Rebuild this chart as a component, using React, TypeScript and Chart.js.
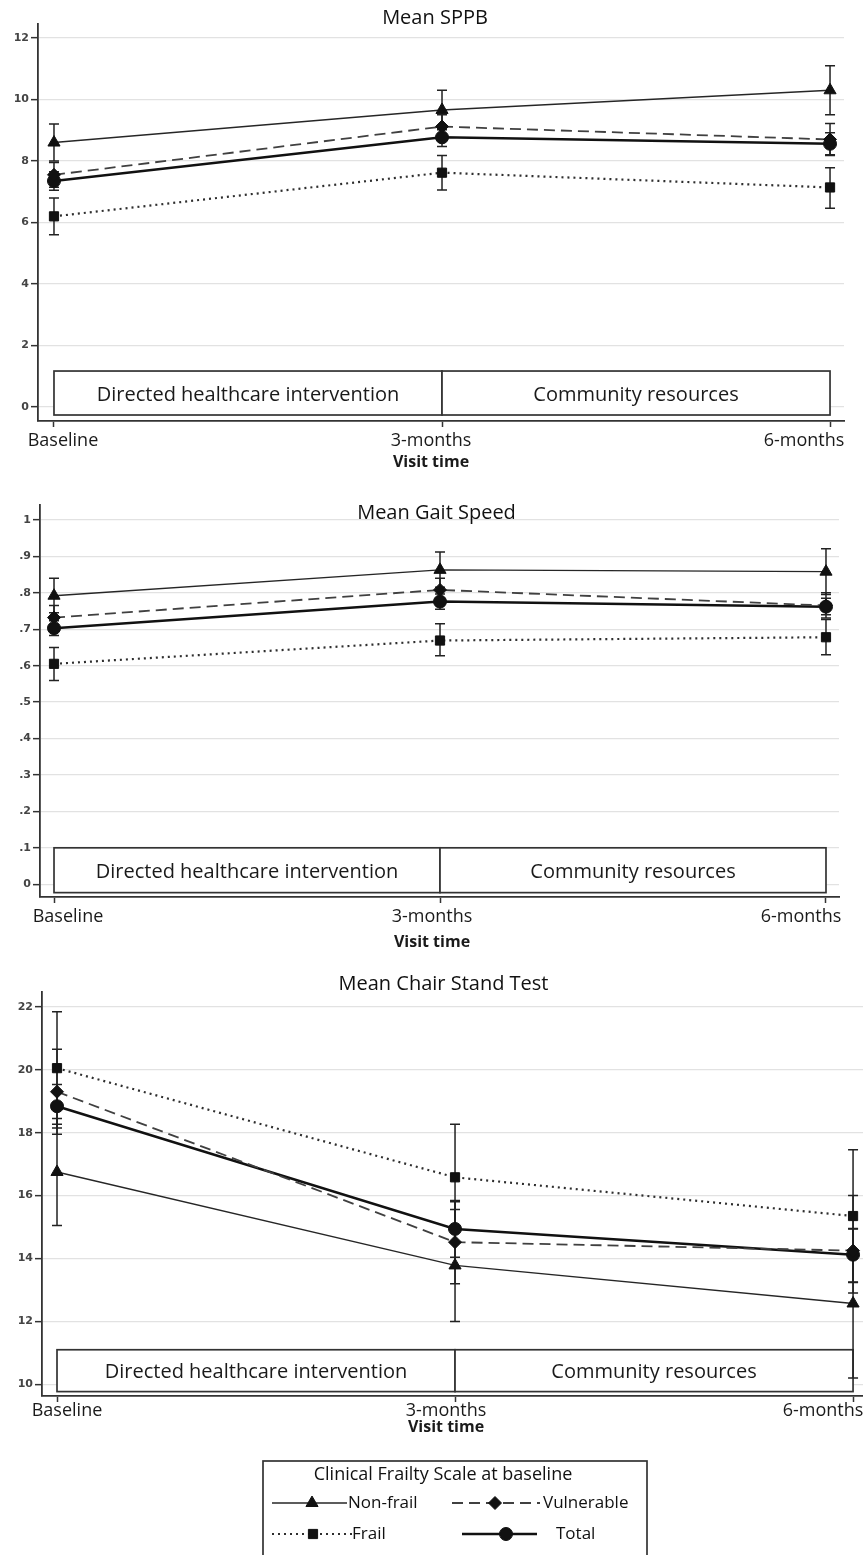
import React, { useEffect, useRef } from 'react';
import { Chart, registerables } from 'chart.js';
import { drawPoint } from 'chart.js/helpers';

Chart.register(...registerables);

// ---------- data ----------
const visitLabels = ['Baseline', '3-months', '6-months'];
const visitIndex = [0, 1, 2];
const seriesNames = ['Non-frail', 'Vulnerable', 'Frail', 'Total'];
const phaseLabels = ['Directed healthcare intervention', 'Community resources'];
const axisTitle = 'Visit time';
const legendTitle = 'Clinical Frailty Scale at baseline';

// Mean SPPB
const sppbTicks = [0, 2, 4, 6, 8, 10, 12];
const sppbNonFrail = [8.6, 9.66, 10.3];
const sppbNonFrailLo = [8.0, 9.02, 9.5];
const sppbNonFrailHi = [9.2, 10.3, 11.1];
const sppbVulnerable = [7.55, 9.12, 8.7];
const sppbVulnerableLo = [7.15, 8.75, 8.2];
const sppbVulnerableHi = [7.95, 9.5, 9.22];
const sppbFrail = [6.2, 7.62, 7.14];
const sppbFrailLo = [5.6, 7.06, 6.46];
const sppbFrailHi = [6.8, 8.18, 7.78];
const sppbTotal = [7.35, 8.77, 8.56];
const sppbTotalLo = [7.05, 8.47, 8.18];
const sppbTotalHi = [7.65, 9.08, 8.92];

// Mean Gait Speed
const gaitTicks = [0, 0.1, 0.2, 0.3, 0.4, 0.5, 0.6, 0.7, 0.8, 0.9, 1];
const gaitNonFrail = [0.792, 0.863, 0.858];
const gaitNonFrailLo = [0.745, 0.815, 0.795];
const gaitNonFrailHi = [0.84, 0.912, 0.921];
const gaitVulnerable = [0.732, 0.808, 0.765];
const gaitVulnerableLo = [0.7, 0.775, 0.731];
const gaitVulnerableHi = [0.765, 0.84, 0.8];
const gaitFrail = [0.605, 0.669, 0.678];
const gaitFrailLo = [0.559, 0.627, 0.63];
const gaitFrailHi = [0.65, 0.715, 0.727];
const gaitTotal = [0.703, 0.776, 0.762];
const gaitTotalLo = [0.683, 0.755, 0.74];
const gaitTotalHi = [0.723, 0.797, 0.785];

// Mean Chair Stand Test
const chairTicks = [10, 12, 14, 16, 18, 20, 22];
const chairNonFrail = [16.75, 13.78, 12.57];
const chairNonFrailLo = [15.05, 12.0, 10.2];
const chairNonFrailHi = [18.45, 15.56, 14.94];
const chairVulnerable = [19.3, 14.52, 14.25];
const chairVulnerableLo = [17.95, 13.2, 12.9];
const chairVulnerableHi = [20.65, 15.8, 16.0];
const chairFrail = [20.05, 16.58, 15.35];
const chairFrailLo = [18.27, 14.89, 13.24];
const chairFrailHi = [21.84, 18.27, 17.46];
const chairTotal = [18.84, 14.94, 14.12];
const chairTotalLo = [18.15, 14.04, 13.25];
const chairTotalHi = [19.53, 15.84, 14.95];

// ---------- styles ----------
const FONT = '"Open Sans", "Noto Sans", sans-serif';
const seriesStyles = [
  { color: '#262626', width: 1.4, dash: [] as number[], point: 'triangle', radius: 7 },
  { color: '#404040', width: 1.8, dash: [11, 6], point: 'rectRot', radius: 6.5 },
  { color: '#2e2e2e', width: 2.2, dash: [2, 4], point: 'rect', radius: 6.5 },
  { color: '#111111', width: 2.5, dash: [] as number[], point: 'circle', radius: 6.5 },
];
const markerColor = '#111111';

type Series = { mean: number[]; lo: number[]; hi: number[] };

interface PanelCfg {
  title: string;
  height: number;
  top: number;
  bottom: number;
  left: number;
  right: number;
  xMin: number;
  xMax: number;
  yMin: number;
  yMax: number;
  yTicks: number[];
  yFormat: (v: number) => string;
  series: Series[];
  boxTop: number;
  boxBottom: number;
  titleDx: number;
  titleDy: number;
  labelDx: number[];
  labelDy: number;
  axisTitleDy: number;
  legend?: boolean;
}

const W = 863;

const panels: PanelCfg[] = [
  {
    title: 'Mean SPPB',
    height: 475,
    top: 24,
    bottom: 421,
    left: 38,
    right: 844,
    xMin: -0.0412,
    xMax: 2.036,
    yMin: -0.455,
    yMax: 12.455,
    yTicks: sppbTicks,
    yFormat: (v) => String(v),
    series: [
      { mean: sppbNonFrail, lo: sppbNonFrailLo, hi: sppbNonFrailHi },
      { mean: sppbVulnerable, lo: sppbVulnerableLo, hi: sppbVulnerableHi },
      { mean: sppbFrail, lo: sppbFrailLo, hi: sppbFrailHi },
      { mean: sppbTotal, lo: sppbTotalLo, hi: sppbTotalHi },
    ],
    boxTop: 1.17,
    boxBottom: -0.26,
    titleDx: -6,
    titleDy: -6,
    labelDx: [9, -11, -26],
    labelDy: 20,
    axisTitleDy: 41,
  },
  {
    title: 'Mean Gait Speed',
    height: 480,
    top: 30,
    bottom: 422,
    left: 40,
    right: 839,
    xMin: -0.0363,
    xMax: 2.0337,
    yMin: -0.035,
    yMax: 1.041,
    yTicks: gaitTicks,
    yFormat: (v) => (Math.abs(v) < 1e-9 ? '0' : Math.abs(v - 1) < 1e-9 ? '1' : '.' + Math.round(v * 10)),
    series: [
      { mean: gaitNonFrail, lo: gaitNonFrailLo, hi: gaitNonFrailHi },
      { mean: gaitVulnerable, lo: gaitVulnerableLo, hi: gaitVulnerableHi },
      { mean: gaitFrail, lo: gaitFrailLo, hi: gaitFrailHi },
      { mean: gaitTotal, lo: gaitTotalLo, hi: gaitTotalHi },
    ],
    boxTop: 0.1,
    boxBottom: -0.023,
    titleDx: -3,
    titleDy: 8,
    labelDx: [14, -8, -25],
    labelDy: 20,
    axisTitleDy: 45,
  },
  {
    title: 'Mean Chair Stand Test',
    height: 600,
    top: 37,
    bottom: 441,
    left: 42,
    right: 863,
    xMin: -0.0377,
    xMax: 2.025,
    yMin: 9.63,
    yMax: 22.47,
    yTicks: chairTicks,
    yFormat: (v) => String(v),
    series: [
      { mean: chairNonFrail, lo: chairNonFrailLo, hi: chairNonFrailHi },
      { mean: chairVulnerable, lo: chairVulnerableLo, hi: chairVulnerableHi },
      { mean: chairFrail, lo: chairFrailLo, hi: chairFrailHi },
      { mean: chairTotal, lo: chairTotalLo, hi: chairTotalHi },
    ],
    boxTop: 11.1,
    boxBottom: 9.77,
    titleDx: -9,
    titleDy: -8,
    labelDx: [10, -9, -30],
    labelDy: 15,
    axisTitleDy: 31,
    legend: true,
  },
];

// legend layout (canvas px of last panel)
const legendBox = { x: 263, y: 506, w: 384, h: 120 };
const legendTitlePos = { x: 443, y: 520 };
const legendItems = [
  { x0: 272, x1: 347, mx: 312, tx: 348, y: 548 },
  { x0: 452, x1: 540, mx: 495, tx: 543, y: 548 },
  { x0: 272, x1: 352, mx: 313, tx: 352, y: 579 },
  { x0: 462, x1: 537, mx: 506, tx: 556, y: 579 },
];

function makeOverlay(cfg: PanelCfg) {
  return {
    id: 'overlay',
    beforeDatasetsDraw(chart: any) {
      const ctx = chart.ctx as CanvasRenderingContext2D;
      const xs = chart.scales.x;
      const ys = chart.scales.y;
      ctx.save();
      // phase boxes
      const yt = ys.getPixelForValue(cfg.boxTop);
      const yb = ys.getPixelForValue(cfg.boxBottom);
      phaseLabels.forEach((lab, i) => {
        const x0 = xs.getPixelForValue(i);
        const x1 = xs.getPixelForValue(i + 1);
        ctx.fillStyle = '#ffffff';
        ctx.fillRect(x0, yt, x1 - x0, yb - yt);
        ctx.strokeStyle = '#333';
        ctx.lineWidth = 1.7;
        ctx.setLineDash([]);
        ctx.strokeRect(x0, yt, x1 - x0, yb - yt);
        ctx.fillStyle = '#1a1a1a';
        ctx.font = `20px ${FONT}`;
        ctx.textAlign = 'center';
        ctx.textBaseline = 'middle';
        ctx.fillText(lab, (x0 + x1) / 2, (yt + yb) / 2 + 2);
      });
      // error bars
      cfg.series.forEach((s) => {
        ctx.strokeStyle = '#222';
        ctx.lineWidth = 1.5;
        ctx.setLineDash([]);
        s.lo.forEach((l, i) => {
          const x = xs.getPixelForValue(visitIndex[i]);
          const y1 = ys.getPixelForValue(l);
          const y2 = ys.getPixelForValue(s.hi[i]);
          ctx.beginPath();
          ctx.moveTo(x, y1);
          ctx.lineTo(x, y2);
          ctx.moveTo(x - 5, y1);
          ctx.lineTo(x + 5, y1);
          ctx.moveTo(x - 5, y2);
          ctx.lineTo(x + 5, y2);
          ctx.stroke();
        });
      });
      ctx.restore();
    },
    afterDraw(chart: any) {
      const ctx = chart.ctx as CanvasRenderingContext2D;
      const xs = chart.scales.x;
      const area = chart.chartArea;
      ctx.save();
      // title
      ctx.fillStyle = '#111';
      ctx.font = `20px ${FONT}`;
      ctx.textAlign = 'center';
      ctx.textBaseline = 'middle';
      ctx.fillText(cfg.title, (area.left + area.right) / 2 + cfg.titleDx, area.top + cfg.titleDy);
      // x labels
      ctx.font = `18px ${FONT}`;
      ctx.fillStyle = '#1a1a1a';
      visitLabels.forEach((lab, i) => {
        const x = xs.getPixelForValue(visitIndex[i]) + cfg.labelDx[i];
        ctx.fillText(lab, x, area.bottom + cfg.labelDy);
      });
      ctx.font = `bold 16px ${FONT}`;
      ctx.fillText(axisTitle, xs.getPixelForValue(1) + cfg.labelDx[1], area.bottom + cfg.axisTitleDy);
      // legend
      if (cfg.legend) {
        ctx.strokeStyle = '#333';
        ctx.lineWidth = 1.7;
        ctx.setLineDash([]);
        ctx.strokeRect(legendBox.x, legendBox.y, legendBox.w, legendBox.h);
        ctx.fillStyle = '#111';
        ctx.font = `18px ${FONT}`;
        ctx.textAlign = 'center';
        ctx.fillText(legendTitle, legendTitlePos.x, legendTitlePos.y);
        legendItems.forEach((it, i) => {
          const st = seriesStyles[i];
          ctx.strokeStyle = st.color;
          ctx.lineWidth = st.width;
          ctx.setLineDash(st.dash);
          ctx.beginPath();
          ctx.moveTo(it.x0, it.y);
          ctx.lineTo(it.x1, it.y);
          ctx.stroke();
          ctx.setLineDash([]);
          ctx.fillStyle = markerColor;
          ctx.strokeStyle = markerColor;
          ctx.lineWidth = 1;
          drawPoint(ctx, { pointStyle: st.point, radius: st.radius, rotation: 0, borderWidth: 1 } as any, it.mx, it.y);
          ctx.fillStyle = '#111';
          ctx.font = `17px ${FONT}`;
          ctx.textAlign = 'left';
          ctx.fillText(seriesNames[i], it.tx, it.y);
        });
      }
      ctx.restore();
    },
  };
}

function Panel({ cfg }: { cfg: PanelCfg }) {
  const ref = useRef<HTMLCanvasElement | null>(null);
  useEffect(() => {
    if (!ref.current) return;
    const chart = new Chart(ref.current, {
      type: 'line',
      data: {
        datasets: cfg.series.map((s, i) => ({
          label: seriesNames[i],
          data: s.mean.map((v, j) => ({ x: visitIndex[j], y: v })),
          borderColor: seriesStyles[i].color,
          backgroundColor: markerColor,
          borderWidth: seriesStyles[i].width,
          borderDash: seriesStyles[i].dash,
          pointStyle: seriesStyles[i].point as any,
          pointRadius: seriesStyles[i].radius,
          pointBackgroundColor: markerColor,
          pointBorderColor: markerColor,
          pointBorderWidth: 1,
          tension: 0,
          fill: false,
          clip: false as any,
        })),
      },
      options: {
        animation: false,
        responsive: false,
        devicePixelRatio: 1,
        events: [],
        layout: { autoPadding: false, padding: { top: cfg.top, left: 0, right: W - cfg.right, bottom: 0 } },
        plugins: { legend: { display: false }, title: { display: false }, tooltip: { enabled: false } },
        scales: {
          x: {
            type: 'linear',
            min: cfg.xMin,
            max: cfg.xMax,
            afterBuildTicks: (s: any) => {
              s.ticks = visitIndex.map((v) => ({ value: v }));
            },
            afterFit: (s: any) => {
              s.height = cfg.height - cfg.bottom;
            },
            ticks: { display: false },
            grid: { drawOnChartArea: false, drawTicks: true, tickLength: 6, tickColor: '#333', tickWidth: 1.5, color: '#333' },
            border: { display: true, color: '#333', width: 1.8 },
          },
          y: {
            type: 'linear',
            min: cfg.yMin,
            max: cfg.yMax,
            afterBuildTicks: (s: any) => {
              s.ticks = cfg.yTicks.map((v) => ({ value: v }));
            },
            afterFit: (s: any) => {
              s.width = cfg.left;
            },
            ticks: {
              callback: (v: any) => cfg.yFormat(Number(v)),
              font: { family: 'DejaVu Sans', size: 11, weight: 'bold' },
              color: '#444',
              padding: 2,
            },
            grid: { color: '#e2e2e2', lineWidth: 1.3, tickColor: '#333', tickLength: 7, tickWidth: 1.5 },
            border: { display: true, color: '#333', width: 1.8 },
          },
        },
      },
      plugins: [makeOverlay(cfg)],
    } as any);
    return () => chart.destroy();
  }, [cfg]);
  return <canvas ref={ref} width={W} height={cfg.height} style={{ display: 'block', width: W, height: cfg.height }} />;
}

export default function App() {
  if (typeof document !== 'undefined') {
    document.body.style.margin = '0';
  }
  return (
    <div style={{ width: W, background: '#fff' }}>
      {panels.map((p, i) => (
        <Panel key={i} cfg={p} />
      ))}
    </div>
  );
}
